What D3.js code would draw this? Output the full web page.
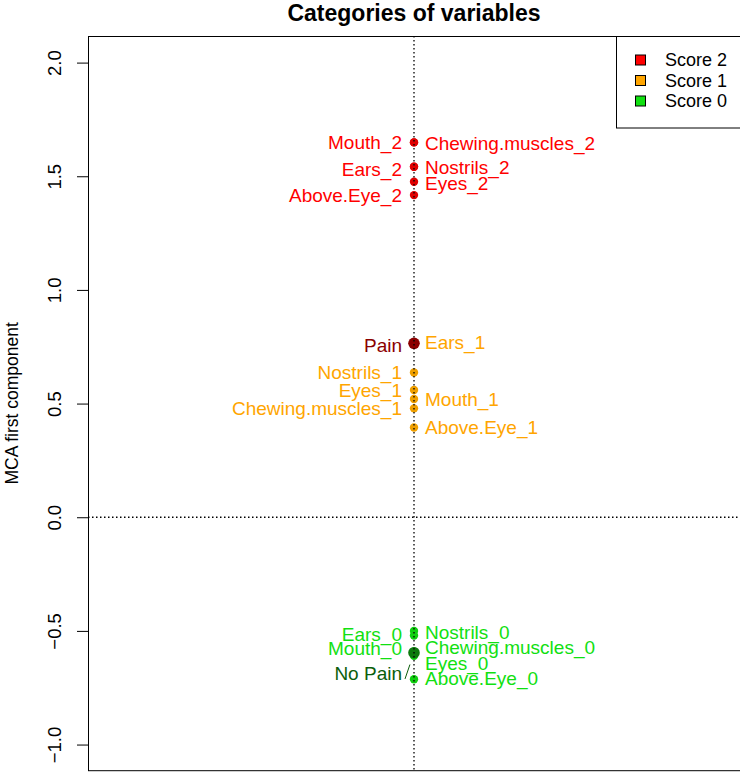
<!DOCTYPE html>
<html>
<head>
<meta charset="utf-8">
<script src="https://cdn.jsdelivr.net/npm/d3@7"></script>
<style>
  html, body { margin: 0; padding: 0; background: #fff; }
  svg { display: block; font-family: "Liberation Sans", Arial, sans-serif; }
</style>
</head>
<body>
<svg id="chart" width="740" height="772"></svg>
<script>
// ---- data ----
const categories = ["Mouth_2","Chewing.muscles_2","Ears_2","Nostrils_2","Eyes_2","Above.Eye_2",
                    "Ears_1","Nostrils_1","Eyes_1","Mouth_1","Chewing.muscles_1","Above.Eye_1",
                    "Ears_0","Nostrils_0","Mouth_0","Chewing.muscles_0","Eyes_0","Above.Eye_0"];
const scores     = [2,2,2,2,2,2, 1,1,1,1,1,1, 0,0,0,0,0,0];
const dim1       = [1.649,1.649,1.542,1.542,1.476,1.417,
                    0.765,0.637,0.560,0.520,0.479,0.395,
                    -0.500,-0.520,-0.590,-0.600,-0.610,-0.713];
// label placement (side, label height in data units)
const labelSide  = ["L","R","L","R","R","L",
                    "R","L","L","R","L","R",
                    "L","R","L","R","R","R"];
const labelAt    = [1.650,1.646,1.533,1.540,1.471,1.419,
                    0.771,0.639,0.560,0.520,0.480,0.397,
                    -0.514,-0.505,-0.577,-0.571,-0.641,-0.707];

const suppNames  = ["Pain","No Pain"];
const suppValues = [0.765,-0.596];
const suppLabelAt= [0.755,-0.685];

const legendLabels = ["Score 2","Score 1","Score 0"];
const legendScores = [2,1,0];
const yTicks = [-1.0,-0.5,0.0,0.5,1.0,1.5,2.0];

// ---- styles ----
const scoreColor = {2:"#FF0000", 1:"#FFA500", 0:"#11E011"};
const pointColor = {2:"#E00000", 1:"#F0A000", 0:"#10D010"};
const suppText = ["#8B0000","#0B5E0B"];
const suppPoint = ["#8B0000","#0E7A0E"];

const svg = d3.select("#chart");
const pL = 88, pR = 740, pT = 36, pB = 770.7;

const x = d3.scaleLinear().domain([-1, 1]).range([pL, pR]);
const y = d3.scaleLinear().domain([-1.115, 2.117]).range([pB, pT]);

// title
svg.append("text")
  .attr("x", (pL + pR) / 2).attr("y", 21)
  .attr("text-anchor", "middle")
  .attr("font-weight", "bold").attr("font-size", 23)
  .text("Categories of variables");

// y axis
const yAxis = d3.axisLeft(y).tickValues(yTicks).tickSize(11).tickFormat(d3.format(".1f"));
const gy = svg.append("g").attr("transform", `translate(${pL},0)`).call(yAxis);
gy.select(".domain").remove();
gy.selectAll(".tick line").attr("stroke", "#000");
gy.selectAll(".tick text")
  .attr("font-size", 18.5).attr("fill", "#000")
  .attr("font-family", "Liberation Sans, Arial, sans-serif")
  .attr("x", 0).attr("y", 0).attr("dy", "0.36em")
  .attr("text-anchor", "middle")
  .attr("transform", "translate(-34,0) rotate(-90)");

svg.append("text")
  .attr("transform", `translate(18,${(pT + pB) / 2}) rotate(-90)`)
  .attr("text-anchor", "middle")
  .attr("font-size", 17.5)
  .text("MCA first component");

// reference line (horizontal)
svg.append("line")
  .attr("x1", pL).attr("x2", pR)
  .attr("y1", y(0)).attr("y2", y(0))
  .attr("stroke", "#000").attr("stroke-width", 1.3).attr("stroke-dasharray", "1.5,2.5");

// points (categories)
const pts = categories.map((c, i) => ({name: c, score: scores[i], v: dim1[i], side: labelSide[i], lab: labelAt[i]}));
svg.append("g").selectAll("circle").data(pts).join("circle")
  .attr("cx", x(0)).attr("cy", d => y(d.v)).attr("r", 4.2)
  .attr("fill", d => pointColor[d.score]);

// supplementary points
const supp = suppNames.map((n, i) => ({name: n, v: suppValues[i], lab: suppLabelAt[i], i}));
svg.append("g").selectAll("circle").data(supp).join("circle")
  .attr("cx", x(0)).attr("cy", d => y(d.v)).attr("r", 5.8)
  .attr("fill", d => suppPoint[d.i]);

// vertical reference line (over points)
svg.append("line")
  .attr("x1", x(0)).attr("x2", x(0))
  .attr("y1", pT).attr("y2", pB)
  .attr("stroke", "#000").attr("stroke-width", 1.3).attr("stroke-dasharray", "1.5,2.5");

// labels
const fs = 19;
svg.append("g").selectAll("text").data(pts).join("text")
  .attr("x", d => d.side === "L" ? x(0) - 12 : x(0) + 11)
  .attr("y", d => y(d.lab))
  .attr("dy", "0.36em")
  .attr("text-anchor", d => d.side === "L" ? "end" : "start")
  .attr("font-size", fs)
  .attr("fill", d => scoreColor[d.score])
  .text(d => d.name);

svg.append("g").selectAll("text").data(supp).join("text")
  .attr("x", x(0) - 12)
  .attr("y", d => y(d.lab))
  .attr("dy", "0.36em")
  .attr("text-anchor", "end")
  .attr("font-size", fs)
  .attr("fill", d => suppText[d.i])
  .text(d => d.name);

// leader line for No Pain (label moved away from its point)
supp.filter(d => Math.abs(y(d.lab) - y(d.v)) > 12).forEach(d => {
  const x1 = x(0) - 9, y1 = y(d.lab) + 6;
  const x2 = x1 + 0.55 * (x(0) - x1), y2 = y1 + 0.55 * (y(d.v) - y1);
  svg.append("line").attr("x1", x1).attr("y1", y1).attr("x2", x2).attr("y2", y2)
    .attr("stroke", suppText[d.i]).attr("stroke-width", 1);
});

// plot box
svg.append("rect")
  .attr("x", pL + 0.5).attr("y", pT + 0.5)
  .attr("width", pR - pL + 10).attr("height", pB - pT - 0.5)
  .attr("fill", "none").attr("stroke", "#000");

// legend
const lg = svg.append("g");
lg.append("rect").attr("x", 616.5).attr("y", pT + 0.5).attr("width", 140).attr("height", 91.5)
  .attr("fill", "#fff").attr("stroke", "#000");
legendLabels.forEach((t, i) => {
  const cy = 60 + i * 20.5;
  lg.append("rect").attr("x", 635.5).attr("y", cy - 5).attr("width", 10).attr("height", 10)
    .attr("fill", scoreColor[legendScores[i]]).attr("stroke", "#000");
  lg.append("text").attr("x", 665).attr("y", cy).attr("dy", "0.36em")
    .attr("font-size", 18).text(t);
});
</script>
</body>
</html>
